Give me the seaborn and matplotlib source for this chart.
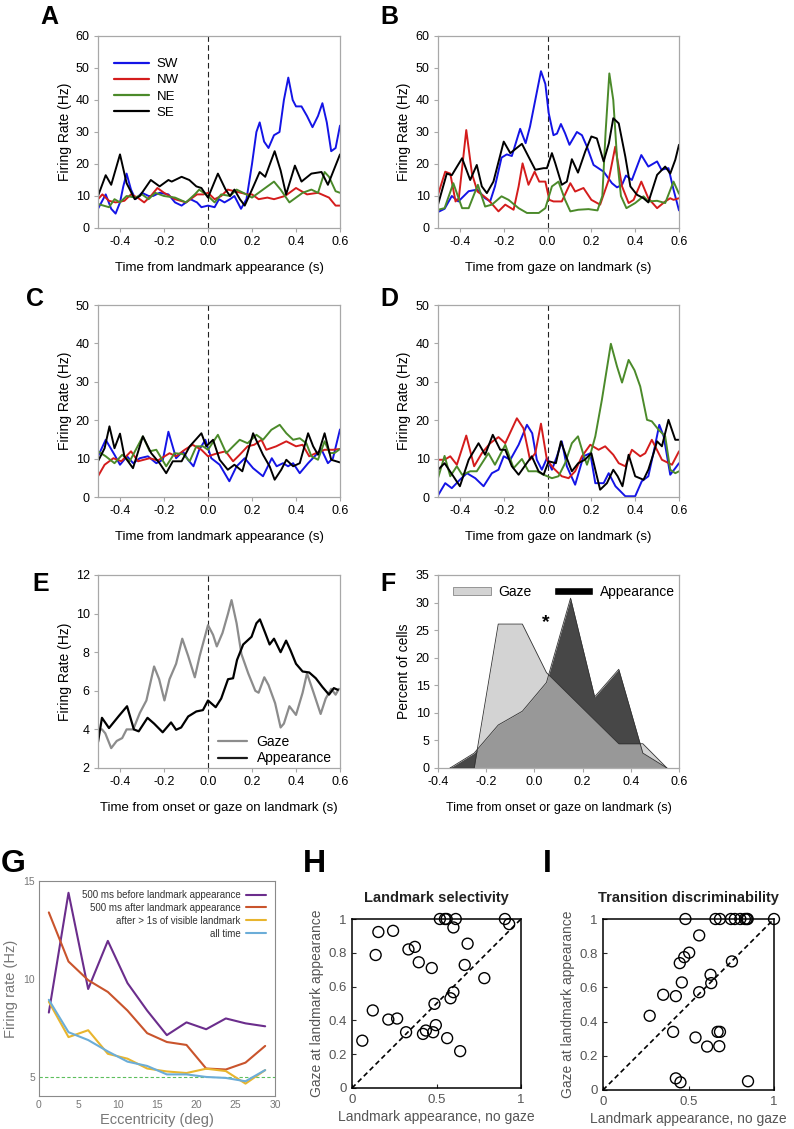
import numpy as np
import pandas as pd
import seaborn as sns
import matplotlib.pyplot as plt
from matplotlib.lines import Line2D
from matplotlib.patches import Patch

sns.set_theme(style="ticks")
plt.rcParams["font.family"] = ["Liberation Sans", "DejaVu Sans"]
plt.rcParams["text.color"] = "black"
plt.rcParams["axes.labelcolor"] = "black"
plt.rcParams["xtick.labelcolor"] = "black"
plt.rcParams["ytick.labelcolor"] = "black"

# ---------------- data ----------------
DIRS = ["SW", "NW", "NE", "SE"]
DIR_COLORS = {"SW": "#1414e6", "NW": "#d41c1c", "NE": "#4b8a2a", "SE": "#000000"}

# panel A: time from landmark appearance
a_sw = [(-0.5, 6), (-0.465, 10.5), (-0.44, 6), (-0.42, 4.5), (-0.40, 8), (-0.385, 13), (-0.37, 17), (-0.35, 12),
        (-0.33, 9), (-0.3, 11), (-0.27, 10), (-0.25, 10), (-0.22, 11), (-0.18, 10.5), (-0.15, 8), (-0.12, 7),
        (-0.08, 9), (-0.05, 8), (-0.03, 6.5), (0.0, 7), (0.03, 6.5), (0.05, 9), (0.075, 8), (0.1, 9), (0.12, 10),
        (0.15, 6), (0.175, 9), (0.2, 20), (0.22, 30), (0.235, 33), (0.255, 27), (0.275, 25), (0.3, 29),
        (0.325, 30), (0.345, 40), (0.365, 47), (0.385, 40), (0.4, 38), (0.425, 38), (0.45, 35), (0.475, 31.5),
        (0.5, 35), (0.52, 39), (0.54, 33), (0.56, 24), (0.58, 25), (0.6, 32)]
a_nw = [(-0.5, 9), (-0.48, 10.5), (-0.45, 8.5), (-0.42, 8), (-0.38, 8.5), (-0.35, 10.5), (-0.32, 9.5), (-0.29, 8),
        (-0.26, 10), (-0.23, 12.5), (-0.2, 11), (-0.15, 9), (-0.1, 8), (-0.05, 10.5), (-0.02, 10.5), (0.0, 11),
        (0.03, 9), (0.06, 10), (0.09, 12), (0.12, 11.5), (0.15, 11), (0.18, 10.5), (0.2, 10.5), (0.23, 9),
        (0.27, 9.5), (0.3, 9), (0.35, 10), (0.4, 12.5), (0.45, 10.5), (0.5, 11), (0.55, 9.5), (0.58, 7), (0.6, 7)]
a_ne = [(-0.5, 7.5), (-0.475, 7), (-0.45, 6.5), (-0.425, 9), (-0.4, 8), (-0.37, 10), (-0.33, 9.5), (-0.3, 10.5),
        (-0.27, 9), (-0.24, 11), (-0.2, 10), (-0.15, 9.5), (-0.1, 8), (-0.06, 10.5), (-0.04, 12), (-0.02, 11),
        (0.0, 10), (0.03, 8), (0.06, 10.5), (0.1, 10), (0.13, 12), (0.16, 11), (0.2, 9.5), (0.23, 11), (0.27, 13),
        (0.3, 14.5), (0.33, 12), (0.37, 8), (0.4, 9.5), (0.43, 11), (0.47, 12), (0.5, 11), (0.53, 17.5),
        (0.55, 16), (0.58, 11.5), (0.6, 11)]
a_se = [(-0.5, 10), (-0.465, 16.5), (-0.44, 13.5), (-0.4, 23), (-0.37, 14), (-0.333, 9), (-0.31, 10), (-0.26, 15),
        (-0.22, 13), (-0.18, 15), (-0.165, 14.5), (-0.12, 16), (-0.085, 15), (-0.053, 13), (-0.03, 12.5),
        (0.0, 9.5), (0.045, 17), (0.08, 12), (0.1, 10), (0.12, 12), (0.145, 9), (0.167, 7), (0.2, 12),
        (0.235, 17.5), (0.26, 16), (0.303, 24), (0.33, 18), (0.355, 10.5), (0.395, 19.5), (0.425, 14.5),
        (0.47, 17), (0.516, 17.5), (0.545, 13.5), (0.6, 23)]

# panel B: time from gaze on landmark
b_sw = [(-0.5, 5), (-0.47, 6), (-0.437, 10), (-0.407, 8.3), (-0.36, 11.5), (-0.32, 12), (-0.285, 9.3),
        (-0.262, 8.3), (-0.24, 13), (-0.21, 22), (-0.186, 23), (-0.163, 22.5), (-0.125, 31), (-0.1, 26.5),
        (-0.08, 31.7), (-0.056, 40), (-0.03, 49), (-0.01, 45), (0.005, 36), (0.027, 29), (0.043, 29.5),
        (0.061, 32.5), (0.08, 29.6), (0.1, 26), (0.134, 30), (0.157, 29), (0.18, 25.4), (0.21, 19.7),
        (0.256, 17.6), (0.294, 14), (0.317, 12.7), (0.34, 13.5), (0.358, 16.4), (0.385, 15), (0.428, 22.8),
        (0.46, 19.2), (0.5, 20.8), (0.52, 18.2), (0.552, 18.7), (0.575, 12), (0.6, 5.5)]
b_nw = [(-0.5, 10.4), (-0.467, 17.6), (-0.444, 17), (-0.42, 8.3), (-0.405, 9.3), (-0.371, 30.6), (-0.345, 17),
        (-0.32, 11.4), (-0.29, 9.9), (-0.27, 8.8), (-0.224, 5.2), (-0.193, 7.3), (-0.155, 5.7), (-0.132, 13),
        (-0.114, 20.2), (-0.087, 13.5), (-0.059, 17.6), (-0.038, 14.5), (-0.01, 14.5), (0.008, 8.8),
        (0.027, 8.3), (0.065, 8.3), (0.104, 14), (0.126, 11.4), (0.164, 12.5), (0.2, 8.8), (0.24, 7.3),
        (0.279, 15), (0.309, 25.4), (0.34, 13), (0.37, 7.8), (0.393, 8.8), (0.428, 14.5), (0.46, 9.3),
        (0.5, 6.2), (0.537, 8.3), (0.56, 9.3), (0.575, 8.8), (0.6, 9.3)]
b_ne = [(-0.5, 5.7), (-0.47, 6.2), (-0.43, 14), (-0.39, 6.2), (-0.36, 6.2), (-0.318, 13.5), (-0.285, 6.7),
        (-0.254, 7.3), (-0.21, 9.9), (-0.178, 8.8), (-0.132, 6.2), (-0.094, 4.7), (-0.04, 4.7), (-0.01, 6.2),
        (0.02, 13), (0.05, 14.5), (0.08, 8.8), (0.104, 5.2), (0.14, 5.7), (0.187, 5.9), (0.228, 5.5),
        (0.25, 10), (0.265, 30), (0.282, 48.3), (0.3, 40), (0.317, 22), (0.335, 10), (0.36, 6.2), (0.4, 7.8),
        (0.438, 9.9), (0.46, 8.3), (0.5, 8.5), (0.537, 7.8), (0.575, 14.5), (0.6, 10.7)]
b_se = [(-0.5, 7.3), (-0.46, 17), (-0.437, 16.5), (-0.39, 21.8), (-0.353, 15), (-0.323, 19.7), (-0.3, 13),
        (-0.277, 10.9), (-0.247, 14.5), (-0.2, 27), (-0.17, 23.4), (-0.117, 26.3), (-0.087, 22.3),
        (-0.056, 18.2), (-0.018, 18.7), (-0.003, 18.7), (0.02, 23.4), (0.035, 20.3), (0.065, 13.5),
        (0.088, 14.5), (0.111, 21.5), (0.139, 17.3), (0.172, 23.9), (0.2, 28.6), (0.225, 28), (0.256, 20.8),
        (0.28, 26.5), (0.3, 34.3), (0.325, 32.7), (0.355, 22.3), (0.378, 13), (0.408, 10.4), (0.438, 9.3),
        (0.46, 8), (0.5, 16.6), (0.537, 19.2), (0.56, 17), (0.583, 21.3), (0.6, 26)]

# panel C: second cell, landmark appearance
c_sw = [(-0.5, 10.6), (-0.465, 14.9), (-0.425, 11), (-0.4, 8.4), (-0.368, 10.6), (-0.34, 8.8), (-0.31, 10.1),
        (-0.273, 10.6), (-0.235, 8.8), (-0.205, 9.7), (-0.18, 17), (-0.145, 10.1), (-0.114, 11.9),
        (-0.091, 9.7), (-0.066, 8), (-0.04, 12.3), (-0.012, 14.9), (0.015, 10.1), (0.053, 8.4), (0.097, 4.1),
        (0.13, 8), (0.167, 10.1), (0.205, 7.5), (0.25, 5.4), (0.29, 10.1), (0.312, 8), (0.341, 8.8),
        (0.364, 8), (0.387, 8.8), (0.417, 6.2), (0.455, 8.8), (0.485, 10.6), (0.515, 12.5), (0.545, 8.8),
        (0.568, 10.1), (0.6, 17.6)]
c_nw = [(-0.5, 5.4), (-0.47, 8.4), (-0.43, 10.1), (-0.394, 9.3), (-0.35, 11.9), (-0.318, 9.3), (-0.265, 10.1),
        (-0.228, 9.5), (-0.175, 11.4), (-0.145, 10.6), (-0.106, 12.3), (-0.07, 13.6), (-0.03, 12.3),
        (0.0, 10.6), (0.038, 11.3), (0.08, 11.9), (0.114, 9.3), (0.144, 11), (0.18, 13.2), (0.21, 13.6),
        (0.243, 14.9), (0.265, 12.3), (0.31, 13.2), (0.356, 14.5), (0.4, 13.2), (0.43, 13.6), (0.46, 10.6),
        (0.49, 11.4), (0.53, 12.3), (0.568, 12.3), (0.6, 12.5)]
c_ne = [(-0.5, 11.9), (-0.465, 10.6), (-0.425, 8.8), (-0.39, 11), (-0.356, 9.3), (-0.296, 15.8),
        (-0.265, 11.9), (-0.235, 12.3), (-0.19, 8), (-0.152, 11.4), (-0.114, 11.2), (-0.083, 9.3),
        (-0.053, 13.2), (-0.023, 13.2), (0.0, 12.3), (0.045, 16.2), (0.083, 11.4), (0.114, 13.2),
        (0.144, 14.9), (0.18, 14), (0.22, 16.2), (0.25, 14.9), (0.288, 17.5), (0.326, 18.8), (0.356, 16.6),
        (0.387, 14.9), (0.417, 15.3), (0.447, 14), (0.47, 10.6), (0.5, 9.7), (0.53, 14.5), (0.553, 11.4),
        (0.576, 11.5), (0.6, 12.5)]
c_se = [(-0.5, 9.3), (-0.47, 12.7), (-0.448, 18.4), (-0.425, 12.7), (-0.4, 16.5), (-0.38, 10.6), (-0.341, 7.5),
        (-0.296, 15.8), (-0.258, 11.4), (-0.22, 8.8), (-0.19, 6.2), (-0.16, 9.3), (-0.12, 9.3), (-0.083, 13.2),
        (-0.03, 16.6), (-0.008, 13.2), (0.023, 14.9), (0.053, 9.7), (0.09, 7.1), (0.12, 8.4), (0.156, 6.7),
        (0.205, 16.6), (0.25, 11), (0.28, 8), (0.303, 4.5), (0.333, 7.1), (0.356, 9.7), (0.387, 8),
        (0.417, 8.8), (0.455, 16.6), (0.478, 13.2), (0.5, 11), (0.53, 16.6), (0.56, 9.7), (0.6, 9)]

# panel D: second cell, gaze on landmark
d_sw = [(-0.5, 0.4), (-0.467, 3.6), (-0.437, 2.3), (-0.4, 4.5), (-0.368, 6.2), (-0.33, 4.9), (-0.292, 2.8),
        (-0.254, 6.2), (-0.224, 7.1), (-0.2, 10.6), (-0.17, 9.7), (-0.132, 13.6), (-0.094, 18.8), (-0.07, 16.6),
        (-0.049, 9.7), (-0.026, 7.1), (-0.003, 10.1), (0.02, 7.1), (0.043, 10.6), (0.065, 14.5), (0.088, 8),
        (0.126, 3.2), (0.164, 10.6), (0.195, 11.4), (0.218, 3.6), (0.256, 3.6), (0.279, 6.2), (0.31, 2.8),
        (0.355, 0.2), (0.4, 0.2), (0.43, 4.1), (0.46, 5.4), (0.49, 13.2), (0.51, 18.8), (0.53, 15.8),
        (0.56, 5.8), (0.583, 7.5), (0.6, 8.8)]
d_nw = [(-0.5, 9.7), (-0.47, 9.7), (-0.444, 10.6), (-0.414, 8.4), (-0.371, 16), (-0.335, 8), (-0.3, 11.4),
        (-0.262, 14), (-0.224, 15.6), (-0.193, 14), (-0.14, 20.5), (-0.11, 17.9), (-0.08, 9.7), (-0.056, 11.4),
        (-0.03, 19.1), (-0.003, 9.7), (0.027, 7.5), (0.065, 5.4), (0.096, 4.9), (0.126, 6.7), (0.157, 10.6),
        (0.195, 13.6), (0.233, 12.3), (0.263, 13.2), (0.3, 11), (0.325, 8.8), (0.355, 8), (0.385, 12.3),
        (0.423, 10.6), (0.446, 11.4), (0.476, 14.9), (0.522, 9.7), (0.568, 8.4), (0.6, 11.9)]
d_ne = [(-0.5, 4.9), (-0.47, 10.7), (-0.444, 5.4), (-0.414, 8), (-0.39, 5.8), (-0.353, 6.7), (-0.323, 6.7),
        (-0.27, 11.4), (-0.24, 8.4), (-0.193, 13.6), (-0.155, 7.5), (-0.117, 9.9), (-0.087, 6.7),
        (-0.049, 6.7), (-0.018, 5.8), (0.02, 4.9), (0.05, 5.4), (0.08, 8.8), (0.111, 14), (0.139, 15.8),
        (0.164, 11), (0.18, 8.4), (0.195, 11), (0.218, 15.8), (0.248, 25.3), (0.271, 33.5), (0.289, 39.9),
        (0.317, 34), (0.34, 29.8), (0.37, 35.7), (0.397, 33), (0.423, 28.8), (0.454, 20.1), (0.476, 19.7),
        (0.507, 17.5), (0.537, 15.8), (0.56, 7.1), (0.583, 6.2), (0.6, 6.7)]
d_se = [(-0.5, 7.1), (-0.47, 8.8), (-0.43, 5.4), (-0.4, 2.8), (-0.36, 9.7), (-0.315, 14), (-0.285, 11),
        (-0.25, 16.2), (-0.216, 12.3), (-0.193, 12.3), (-0.163, 8), (-0.132, 5.8), (-0.1, 8.4), (-0.072, 10.6),
        (-0.041, 6.7), (-0.018, 5.8), (0.005, 9.3), (0.038, 8.8), (0.061, 14.5), (0.088, 10.1), (0.111, 6.7),
        (0.14, 8.8), (0.17, 9.7), (0.2, 11.4), (0.218, 7.1), (0.24, 1.9), (0.271, 3.6), (0.3, 7.1), (0.32, 5.4),
        (0.342, 2.8), (0.37, 11), (0.4, 5.4), (0.438, 4.5), (0.46, 7.1), (0.484, 11.4), (0.5, 14.5),
        (0.522, 13.2), (0.552, 20.1), (0.583, 14.9), (0.6, 14.9)]

# panel E: population average
e_gaze = [(-0.5, 3.98), (-0.482, 4.0), (-0.467, 3.8), (-0.44, 3.03), (-0.415, 3.4), (-0.39, 3.55), (-0.37, 4.0),
          (-0.34, 4.0), (-0.31, 4.85), (-0.28, 5.5), (-0.245, 7.26), (-0.222, 6.6), (-0.198, 5.5),
          (-0.175, 6.6), (-0.145, 7.4), (-0.117, 8.7), (-0.09, 7.8), (-0.06, 6.7), (-0.038, 7.8), (0.0, 9.4),
          (0.023, 8.9), (0.04, 8.3), (0.066, 9.0), (0.091, 10.0), (0.107, 10.7), (0.13, 9.5), (0.152, 7.9),
          (0.183, 6.9), (0.215, 6.0), (0.23, 5.9), (0.256, 6.7), (0.275, 6.3), (0.305, 5.36), (0.33, 4.1),
          (0.345, 4.3), (0.37, 5.2), (0.4, 4.75), (0.43, 5.9), (0.45, 6.9), (0.48, 5.9), (0.512, 4.8),
          (0.535, 5.6), (0.56, 6.1), (0.58, 5.8), (0.595, 6.1)]
e_appear = [(-0.5, 3.34), (-0.482, 4.6), (-0.45, 4.07), (-0.405, 4.7), (-0.368, 5.2), (-0.337, 4.0),
            (-0.315, 3.9), (-0.275, 4.6), (-0.245, 4.3), (-0.206, 3.85), (-0.168, 4.36), (-0.145, 3.98),
            (-0.122, 4.1), (-0.09, 4.67), (-0.053, 4.93), (-0.023, 5.0), (0.0, 5.5), (0.035, 5.15), (0.06, 5.6),
            (0.091, 6.6), (0.114, 6.65), (0.132, 7.6), (0.16, 8.4), (0.198, 8.8), (0.22, 9.5), (0.236, 9.7),
            (0.26, 9.0), (0.28, 8.4), (0.3, 8.7), (0.33, 8.0), (0.355, 8.6), (0.375, 8.1), (0.4, 7.4),
            (0.43, 7.0), (0.46, 6.95), (0.49, 6.65), (0.52, 6.2), (0.55, 5.8), (0.572, 6.14), (0.59, 6.05)]

# panel F: latency distributions (% of cells)
f_bins = [-0.35, -0.25, -0.15, -0.05, 0.05, 0.15, 0.25, 0.35, 0.45, 0.55]
f_gaze = [0, 0, 26.1, 26.1, 17.3, 13.0, 8.7, 4.4, 4.4, 0]
f_appear = [0, 2.7, 7.8, 10.3, 15.5, 30.8, 12.9, 17.9, 2.7, 0]

# panel G: firing rate vs eccentricity
g_ecc = [1.25, 3.75, 6.25, 8.75, 11.25, 13.75, 16.25, 18.75, 21.25, 23.75, 26.25, 28.75]
g_before = [8.3, 14.4, 9.5, 11.95, 9.8, 8.4, 7.15, 7.8, 7.45, 8.0, 7.75, 7.6]
g_after = [13.4, 10.9, 9.95, 9.35, 8.4, 7.25, 6.8, 6.65, 5.45, 5.4, 5.75, 6.6]
g_visible = [8.85, 7.05, 7.4, 6.2, 5.95, 5.45, 5.3, 5.22, 5.44, 5.32, 4.68, 5.37]
g_all = [8.95, 7.3, 6.9, 6.32, 5.8, 5.58, 5.15, 5.15, 5.02, 4.97, 4.8, 5.37]
g_labels = ["500 ms before landmark appearance", "500 ms after landmark appearance",
            "after > 1s of visible landmark", "all time"]
g_colors = ["#6b2d8c", "#c9542c", "#e8b52e", "#6badd8"]

# panel H: landmark selectivity
h_nogaze = [0.52, 0.55, 0.56, 0.614, 0.905, 0.93, 0.60, 0.156, 0.243, 0.684, 0.334, 0.372, 0.14, 0.395,
            0.472, 0.667, 0.783, 0.60, 0.583, 0.488, 0.123, 0.215, 0.267, 0.32, 0.496, 0.437, 0.42, 0.48,
            0.563, 0.64, 0.061]
h_gaze = [1.0, 1.0, 1.0, 1.0, 1.0, 0.97, 0.95, 0.923, 0.93, 0.854, 0.82, 0.835, 0.787, 0.744, 0.71, 0.728,
          0.65, 0.567, 0.531, 0.498, 0.459, 0.405, 0.411, 0.33, 0.372, 0.34, 0.32, 0.33, 0.295, 0.218, 0.28]

# panel I: transition discriminability
i_nogaze = [0.482, 0.658, 0.684, 0.748, 0.771, 0.803, 0.83, 0.84, 0.846, 1.0, 0.5625, 0.504, 0.475, 0.449,
            0.754, 0.629, 0.461, 0.633, 0.5625, 0.352, 0.426, 0.273, 0.41, 0.541, 0.67, 0.684, 0.609, 0.68,
            0.426, 0.453, 0.848]
i_gaze = [1.0, 1.0, 1.0, 1.0, 1.0, 1.0, 1.0, 1.0, 1.0, 1.0, 0.904, 0.803, 0.777, 0.742, 0.752, 0.674, 0.629,
          0.625, 0.572, 0.557, 0.549, 0.434, 0.34, 0.307, 0.34, 0.34, 0.254, 0.256, 0.068, 0.045, 0.051]


# ---------------- helpers ----------------
def traces_df(traces):
    rows = [(name, t, v) for name, pts in traces.items() for t, v in pts]
    return pd.DataFrame(rows, columns=["dir", "t", "rate"])


def psth_axes(ax, ylim, yticks, xlabel):
    ax.set_xlim(-0.5, 0.6)
    ax.set_ylim(*ylim)
    ax.set_xticks([-0.4, -0.2, 0.0, 0.2, 0.4, 0.6])
    ax.set_xticklabels(["-0.4", "-0.2", "0.0", "0.2", "0.4", "0.6"])
    ax.set_yticks(yticks)
    ax.axvline(0, color="#222222", ls=(0, (5, 3)), lw=0.8, zorder=1)
    for sp in ax.spines.values():
        sp.set_visible(True)
        sp.set_color("#a8a8a8")
        sp.set_linewidth(0.9)
    ax.tick_params(direction="out", length=3, width=0.8, color="#a8a8a8", labelsize=9, pad=3,
                   labelcolor="black")
    ax.set_xlabel(xlabel, fontsize=9.5, labelpad=10)
    ax.set_ylabel("Firing Rate (Hz)", fontsize=10, labelpad=3)


def direction_panel(ax, traces, ylim, yticks, xlabel):
    df = traces_df(traces)
    sns.lineplot(data=df, x="t", y="rate", hue="dir", hue_order=DIRS, palette=DIR_COLORS,
                 estimator=None, lw=1.4, legend=False, ax=ax)
    psth_axes(ax, ylim, yticks, xlabel)


W, H = 794, 1129
fig = plt.figure(figsize=(W / 100, H / 100), dpi=100)


def add_ax(x0, y0, x1, y1):
    return fig.add_axes([x0 / W, 1 - y1 / H, (x1 - x0) / W, (y1 - y0) / H])


def letter(s, x, y, size=18):
    fig.text(x / W, 1 - y / H, s, fontsize=size, fontweight="bold", va="baseline", ha="left",
             color="black")


ax_a = add_ax(98, 36, 340, 228)
ax_b = add_ax(438, 36, 679, 228)
ax_c = add_ax(98, 305, 340, 497)
ax_d = add_ax(438, 305, 679, 497)
ax_e = add_ax(98, 575, 340, 768)
ax_f = add_ax(438, 575, 679, 768)
ax_g = add_ax(39, 881, 275, 1096)
ax_h = add_ax(352, 919, 521, 1088)
ax_i = add_ax(603, 919, 774, 1090)

ticks60 = [0, 10, 20, 30, 40, 50, 60]
ticks50 = [0, 10, 20, 30, 40, 50]
direction_panel(ax_a, {"SW": a_sw, "NW": a_nw, "NE": a_ne, "SE": a_se}, (0, 60), ticks60,
                "Time from landmark appearance (s)")
direction_panel(ax_b, {"SW": b_sw, "NW": b_nw, "NE": b_ne, "SE": b_se}, (0, 60), ticks60,
                "Time from gaze on landmark (s)")
direction_panel(ax_c, {"SW": c_sw, "NW": c_nw, "NE": c_ne, "SE": c_se}, (0, 50), ticks50,
                "Time from landmark appearance (s)")
direction_panel(ax_d, {"SW": d_sw, "NW": d_nw, "NE": d_ne, "SE": d_se}, (0, 50), ticks50,
                "Time from gaze on landmark (s)")

handles = [Line2D([], [], color=DIR_COLORS[d], lw=1.6) for d in DIRS]
ax_a.legend(handles, DIRS, loc="upper left", bbox_to_anchor=(0.04, 0.92), frameon=False,
            fontsize=9.5, handlelength=2.6, handletextpad=0.6, labelspacing=0.3, borderpad=0)

# E
e_df = traces_df({"Gaze": e_gaze, "Appearance": e_appear})
sns.lineplot(data=e_df, x="t", y="rate", hue="dir", hue_order=["Gaze", "Appearance"],
             palette={"Gaze": "#8c8c8c", "Appearance": "#000000"}, estimator=None, lw=1.6,
             legend=False, ax=ax_e)
psth_axes(ax_e, (2, 12), [2, 4, 6, 8, 10, 12], "Time from onset or gaze on landmark (s)")
ax_e.legend([Line2D([], [], color="#8c8c8c", lw=1.6), Line2D([], [], color="k", lw=1.6)],
            ["Gaze", "Appearance"], loc="lower right", bbox_to_anchor=(1.0, -0.03), frameon=False,
            fontsize=10, handlelength=2.1, handletextpad=0.7, labelspacing=0.2, borderpad=0.1)

# F
ax_f.fill_between(f_bins, f_appear, color="#474747", lw=0, zorder=2)
ax_f.fill_between(f_bins, f_gaze, color="#bfbfbf", alpha=0.68, lw=0, zorder=3)
f_df = pd.DataFrame({"t": f_bins * 2, "pct": f_appear + f_gaze,
                     "kind": ["Appearance"] * len(f_bins) + ["Gaze"] * len(f_bins)})
sns.lineplot(data=f_df, x="t", y="pct", hue="kind", palette={"Appearance": "#333333", "Gaze": "#333333"},
             estimator=None, lw=0.6, legend=False, ax=ax_f, zorder=4)
ax_f.set_xlim(-0.4, 0.6)
ax_f.set_ylim(0, 35)
ax_f.set_xticks([-0.4, -0.2, 0.0, 0.2, 0.4, 0.6])
ax_f.set_xticklabels(["-0.4", "-0.2", "0.0", "0.2", "0.4", "0.6"])
ax_f.set_yticks(range(0, 36, 5))
for sp in ax_f.spines.values():
    sp.set_visible(True)
    sp.set_color("#a8a8a8")
    sp.set_linewidth(0.9)
ax_f.tick_params(direction="out", length=3, width=0.8, color="#a8a8a8", labelsize=9, pad=3,
                 labelcolor="black")
ax_f.set_xlabel("Time from onset or gaze on landmark (s)", fontsize=9, labelpad=10)
ax_f.set_ylabel("Percent of cells", fontsize=10, labelpad=3)
ax_f.text(0.047, 26.3, "*", fontsize=14, fontweight="bold", ha="center", va="center")
ax_f.legend([Patch(facecolor="#d3d3d3", edgecolor="#888888", lw=0.6), Patch(facecolor="#000000")],
            ["Gaze", "Appearance"], loc="upper left", bbox_to_anchor=(0.02, 1.0), ncol=2, frameon=False,
            fontsize=10, handlelength=2.8, handleheight=0.5, handletextpad=0.5, columnspacing=1.6,
            borderpad=0.2)

# G
g_df = pd.DataFrame({"ecc": g_ecc * 4, "rate": g_before + g_after + g_visible + g_all,
                     "cond": sum([[lab] * len(g_ecc) for lab in g_labels], [])})
sns.lineplot(data=g_df, x="ecc", y="rate", hue="cond", hue_order=g_labels,
             palette=dict(zip(g_labels, g_colors)), estimator=None, lw=1.5, ax=ax_g)
ax_g.axhline(5, color="#5cbf5c", ls=(0, (3, 2)), lw=0.8, zorder=0)
ax_g.set_xlim(0, 30)
ax_g.set_ylim(4.05, 15)
ax_g.set_xticks([0, 5, 10, 15, 20, 25, 30])
ax_g.set_yticks([5, 10, 15])
for sp in ax_g.spines.values():
    sp.set_visible(True)
    sp.set_color("#8a8a8a")
    sp.set_linewidth(0.8)
ax_g.tick_params(length=0, labelsize=7.5, labelcolor="#777777", pad=3)
ax_g.set_xlabel("Eccentricity (deg)", fontsize=10.5, color="#777777", labelpad=2)
ax_g.set_ylabel("Firing rate (Hz)", fontsize=10.5, color="#777777", labelpad=4)
leg = ax_g.legend(loc="upper right", bbox_to_anchor=(0.99, 0.99), frameon=False, fontsize=7,
                  markerfirst=False, handlelength=2.0, handletextpad=0.6, labelspacing=0.3, borderpad=0.2)
for txt in leg.get_texts():
    txt.set_color("#333333")


# H / I
def scatter_panel(ax, xs, ys, title):
    sns.scatterplot(x=xs, y=ys, ax=ax, marker="o", s=62, facecolor="none", edgecolor="black",
                    linewidth=1.0, clip_on=False, zorder=3)
    ax.plot([0, 1], [0, 1], color="black", ls=(0, (3, 2)), lw=1.2, zorder=2)
    ax.set_xlim(0, 1)
    ax.set_ylim(0, 1)
    ax.set_xticks([0, 0.5, 1])
    ax.set_xticklabels(["0", "0.5", "1"])
    ax.set_yticks([0, 0.2, 0.4, 0.6, 0.8, 1])
    ax.set_yticklabels(["0", "0.2", "0.4", "0.6", "0.8", "1"])
    for sp in ax.spines.values():
        sp.set_visible(True)
        sp.set_color("black")
        sp.set_linewidth(1.1)
    ax.tick_params(direction="in", length=3, width=0.8, labelsize=9.5, labelcolor="#555555", pad=4)
    ax.set_xlabel("Landmark appearance, no gaze", fontsize=10, color="#555555", labelpad=3)
    ax.set_ylabel("Gaze at landmark appearance", fontsize=10, color="#555555", labelpad=3)
    ax.set_title(title, fontsize=10.5, fontweight="bold", pad=12, color="#222222")


scatter_panel(ax_h, h_nogaze, h_gaze, "Landmark selectivity")
scatter_panel(ax_i, i_nogaze, i_gaze, "Transition discriminability")

letter("A", 40, 24)
letter("B", 380, 24)
letter("C", 26, 306)
letter("D", 380, 306)
letter("E", 32, 591)
letter("F", 380, 591)
letter("G", 1, 872, size=23)
letter("H", 303, 872, size=23)
letter("I", 543, 872, size=23)

fig.savefig("out.png", dpi=100)
